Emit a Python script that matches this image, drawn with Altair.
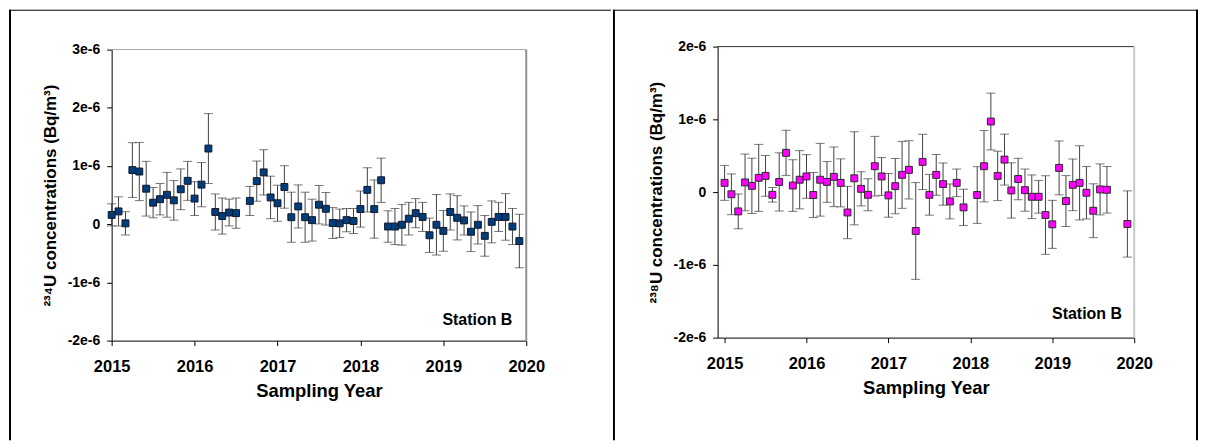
import altair as alt
import pandas as pd

FONT = "Liberation Sans"

# ---------------- data (values and 1-sigma errors in units of 1e-6 Bq/m3) ----------------
# month offsets from January 2015
u234_month = [0, 1, 2, 3, 4, 5, 6, 7, 8, 9, 10, 11, 12, 13, 14, 15, 16, 17, 18,
              20, 21, 22, 23, 24, 25, 26, 27, 28, 29, 30, 31, 32, 33, 34, 35,
              36, 37, 38, 39, 40, 41, 42, 43, 44, 45, 46, 47, 48, 49, 50, 51,
              52, 53, 54, 55, 56, 57, 58, 59]
u234_value = [0.16, 0.22, 0.015, 0.93, 0.905, 0.61, 0.37, 0.43, 0.505, 0.41, 0.60,
              0.745, 0.44, 0.68, 1.30, 0.21, 0.14, 0.20, 0.19,
              0.40, 0.74, 0.89, 0.46, 0.36, 0.64, 0.12, 0.305, 0.12, 0.07, 0.335,
              0.265, 0.02, 0.015, 0.07, 0.055,
              0.26, 0.59, 0.26, 0.755, -0.04, -0.04, -0.01, 0.095, 0.19, 0.125,
              -0.19, -0.01, -0.115, 0.21, 0.11, 0.065, -0.13, -0.01, -0.20, 0.04,
              0.125, 0.125, -0.04, -0.29]
u234_error = [0.19, 0.25, 0.20, 0.47, 0.50, 0.47, 0.26, 0.27, 0.385, 0.34, 0.35,
              0.335, 0.29, 0.38, 0.60, 0.31, 0.31, 0.23, 0.26,
              0.25, 0.345, 0.39, 0.365, 0.31, 0.365, 0.43, 0.37, 0.43, 0.36, 0.33,
              0.28, 0.265, 0.245, 0.20, 0.215,
              0.31, 0.38, 0.50, 0.38, 0.27, 0.31, 0.35, 0.28, 0.25, 0.25,
              0.295, 0.52, 0.35, 0.31, 0.38, 0.25, 0.34, 0.33, 0.35, 0.36,
              0.25, 0.40, 0.31, 0.46]

u238_month = [0, 1, 2, 3, 4, 5, 6, 7, 8, 9, 10, 11, 12, 13, 14, 15, 16, 17, 18, 19,
              20, 21, 22, 23, 24, 25, 26, 27, 28, 29, 30, 31, 32, 33, 34, 35,
              37, 38, 39, 40, 41, 42, 43, 44, 45, 46, 47, 48, 49, 50, 51, 52,
              53, 54, 55, 56, 59]
u238_value = [0.127, -0.03, -0.265, 0.133, 0.086, 0.196, 0.223, -0.037, 0.14, 0.54,
              0.09, 0.17, 0.215, -0.04, 0.17, 0.14, 0.21, 0.127, -0.28, 0.19,
              0.045, -0.037, 0.356, 0.215, -0.045, 0.082, 0.237, 0.306, -0.534,
              0.415, -0.037, 0.237, 0.11, -0.128, 0.127, -0.21,
              -0.04, 0.356, 0.97, 0.223, 0.447, 0.023, 0.18, 0.027, -0.064, -0.064,
              -0.315, -0.443, 0.333, -0.123, 0.10, 0.127, -0.009, -0.256, 0.037,
              0.032, -0.438]
u238_error = [0.24, 0.28, 0.24, 0.39, 0.38, 0.46, 0.28, 0.10, 0.40, 0.31,
              0.355, 0.40, 0.30, 0.31, 0.50, 0.28, 0.41, 0.33, 0.36, 0.64,
              0.235, 0.22, 0.41, 0.26, 0.30, 0.38, 0.46, 0.40, 0.665,
              0.38, 0.28, 0.28, 0.29, 0.24, 0.19, 0.25,
              0.39, 0.49, 0.39, 0.34, 0.35, 0.38, 0.285, 0.29, 0.30, 0.225,
              0.54, 0.33, 0.37, 0.35, 0.355, 0.51, 0.36, 0.37, 0.35,
              0.32, 0.455]

year_ticks = [2015, 2016, 2017, 2018, 2019, 2020]
u234_yticks = [-2e-6, -1e-6, 0, 1e-6, 2e-6, 3e-6]
u238_yticks = [-2e-6, -1e-6, 0, 1e-6, 2e-6]


def make_df(months, vals, errs):
    df = pd.DataFrame({"month": months, "value": vals, "err": errs})
    df["year"] = 2015 + df["month"] / 12.0
    df["conc"] = df["value"] * 1e-6
    df["lo"] = (df["value"] - df["err"]) * 1e-6
    df["hi"] = (df["value"] + df["err"]) * 1e-6
    return df


LABEL_EXPR = ("datum.value == 0 ? '0' : (datum.value < 0 ? '-' : '') + "
              "round(abs(datum.value) * 1e6) + 'e-6'")

CELL_H = 432
one = pd.DataFrame({"k": [0]})


def panel(df, cell_w, xdom, xrange, ydom, yrange, yticks, ytitle, fill, stroke,
          top_color, right_color, station_xy, left_border):
    xs = alt.Scale(domain=xdom, range=xrange, nice=False, zero=False)
    ys = alt.Scale(domain=ydom, range=yrange, nice=False, zero=False)
    xaxis = alt.Axis(values=year_ticks, format="d", offset=yrange[0] - CELL_H,
                     title="Sampling Year", labelPadding=13, labelFontSize=16.5,
                     titleFontSize=18.5, titleY=41, titleBaseline="top",
                     labelFlush=False)
    yaxis = alt.Axis(values=yticks, labelExpr=LABEL_EXPR, offset=-xrange[0],
                     title=ytitle, labelPadding=7, labelFontSize=14,
                     titleFontSize=17, titleX=-61, titleBaseline="middle",
                     labelFlush=False)
    base = alt.Chart(df)
    X = alt.X("year:Q", scale=xs, axis=xaxis)
    bars = base.mark_rule(color="#404040", strokeWidth=1).encode(
        x=X, y=alt.Y("lo:Q", scale=ys, axis=yaxis), y2="hi:Q")
    cap_lo = base.mark_tick(orient="horizontal", size=9, thickness=1, color="#404040").encode(
        x=alt.X("year:Q", scale=xs), y=alt.Y("lo:Q", scale=ys))
    cap_hi = base.mark_tick(orient="horizontal", size=9, thickness=1, color="#404040").encode(
        x=alt.X("year:Q", scale=xs), y=alt.Y("hi:Q", scale=ys))
    pts = base.mark_square(size=48, fill=fill, stroke=stroke, strokeWidth=1,
                           opacity=1, filled=True).encode(
        x=alt.X("year:Q", scale=xs), y=alt.Y("conc:Q", scale=ys))
    top_line = alt.Chart(one).mark_rule(color=top_color, strokeWidth=1).encode(
        x=alt.datum(xdom[0]), x2=alt.datum(xdom[1]), y=alt.datum(ydom[1]))
    right_line = alt.Chart(one).mark_rule(color=right_color, strokeWidth=2).encode(
        x=alt.datum(xdom[1]), y=alt.datum(ydom[0]), y2=alt.datum(ydom[1]))
    station = alt.Chart(one).mark_text(align="right", baseline="alphabetic",
                                       fontSize=16, fontWeight="bold", font=FONT,
                                       color="black").encode(
        x=alt.datum(station_xy[0]), y=alt.datum(station_xy[1]),
        text=alt.value("Station B"))
    # table cell borders
    border_top = alt.Chart(one).mark_rule(color="black", strokeWidth=1).encode(
        x=alt.value(0), x2=alt.value(cell_w), y=alt.value(0.5))
    border_left = alt.Chart(one).mark_rule(color="black", strokeWidth=2).encode(
        x=alt.value(left_border), y=alt.value(0), y2=alt.value(CELL_H))
    layers = [bars, cap_lo, cap_hi, pts, top_line, right_line, station,
              border_top, border_left]
    if cell_w < 600:
        border_right = alt.Chart(one).mark_rule(color="black", strokeWidth=2).encode(
            x=alt.value(cell_w - 1), y=alt.value(0), y2=alt.value(CELL_H))
        layers.append(border_right)
    return alt.layer(*layers).properties(width=cell_w, height=CELL_H)


left = panel(make_df(u234_month, u234_value, u234_error), 604,
             [2015, 2020], [103, 519], [-2e-6, 3e-6], [332, 40], u234_yticks,
             "²³⁴U concentrations (Bq/m³)", "#003D7A", "#101828",
             "#a8a8a8", "#909090", (2019.832, -1.726e-6), 1)
right = panel(make_df(u238_month, u238_value, u238_error), 587,
              [2014.915, 2020], [105, 523], [-2e-6, 2e-6], [329, 37], u238_yticks,
              "²³⁸U concentrations (Bq/m³)", "#FF00FF", "#2a2a2a",
              "#333333", "#c8c8c8", (2019.851, -1.744e-6), 1)

chart = alt.hconcat(left, right, spacing=0).properties(padding=0).configure_view(
    strokeWidth=0
).configure_axis(
    grid=False, labelFont=FONT, titleFont=FONT, labelFontWeight="bold",
    titleFontWeight="bold", labelColor="black", titleColor="black",
    domainColor="black", tickColor="black", tickSize=5, domainWidth=1, tickWidth=1
)

chart.save("out.html", embed_options={"renderer": "svg", "actions": False})
